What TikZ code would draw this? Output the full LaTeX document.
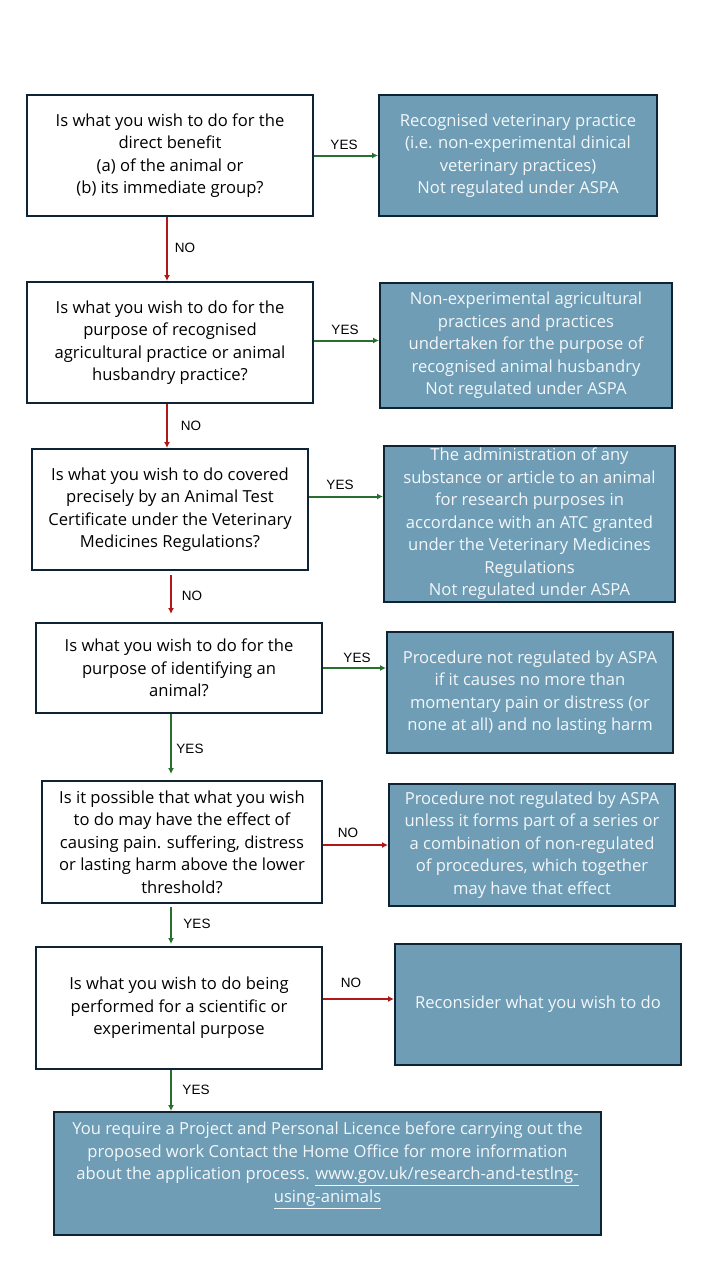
\documentclass[tikz,border=0pt]{standalone}
\usepackage{fontspec}
\setmainfont{Open Sans}
\newfontfamily\lblfont{Liberation Sans}
\usetikzlibrary{arrows.meta}
\definecolor{boxfill}{RGB}{110,157,181}
\definecolor{boxline}{RGB}{14,36,52}
\definecolor{yesgreen}{RGB}{40,112,48}
\definecolor{nored}{RGB}{176,24,24}
\definecolor{boxtext}{RGB}{244,247,250}
\tikzset{
  qbox/.style={draw=boxline, line width=2pt, fill=white, align=center, inner sep=0pt,
    font=\fontsize{16.6}{22.5}\selectfont, text=black},
  abox/.style={draw=boxline, line width=2pt, fill=boxfill, align=center, inner sep=0pt,
    font=\fontsize{16.6}{22.5}\selectfont, text=boxtext},
  yesarr/.style={draw=yesgreen, line width=2pt, -{Latex[length=6pt,width=6pt]}},
  noarr/.style={draw=nored, line width=2pt, -{Latex[length=6pt,width=6pt]}},
  lbl/.style={font=\lblfont\fontsize{13.5}{15}\selectfont, text=black, inner sep=0pt}
}
\begin{document}
\begin{tikzpicture}[x=1pt,y=-1pt]
\useasboundingbox[fill=white] (0,0) rectangle (720,1280);

% questions
\node[qbox, minimum width=286pt, minimum height=121pt] (q1) at (170,155.5)
  {Is what you wish to do for the\\direct benefit\\(a) of the animal or\\(b) its immediate group?};
\node[qbox, minimum width=286pt, minimum height=121pt] (q2) at (170,342.5)
  {Is what you wish to do for the\\purpose of recognised\\agricultural practice or animal\\husbandry practice?};
\node[qbox, minimum width=276pt, minimum height=121pt] (q3) at (170,509.5)
  {Is what you wish to do covered\\precisely by an Animal Test\\Certificate under the Veterinary\\Medicines Regulations?};
\node[qbox, minimum width=286pt, minimum height=90pt] (q4) at (179,668)
  {Is what you wish to do for the\\purpose of identifying an\\animal?};
\node[qbox, minimum width=280pt, minimum height=122pt] (q5) at (182,842)
  {Is it possible that what you wish\\to do may have the effect of\\causing pain. suffering, distress\\or lasting harm above the lower\\threshold?};
\node[qbox, minimum width=286pt, minimum height=122pt] (q6) at (179,1008)
  {Is what you wish to do being\\performed for a scientific or\\experimental purpose};

% answers
\node[abox, minimum width=278pt, minimum height=121pt] (a1) at (518,155.5)
  {Recognised veterinary practice\\(i.e. non-experimental dinical\\veterinary practices)\\Not regulated under ASPA};
\node[abox, minimum width=292pt, minimum height=125pt] (a2) at (526,345.5)
  {Non-experimental agricultural\\practices and practices\\undertaken for the purpose of\\recognised animal husbandry\\Not regulated under ASPA};
\node[abox, minimum width=291pt, minimum height=156pt] (a3) at (529.5,524)
  {The administration of any\\substance or article to an animal\\for research purposes in\\accordance with an ATC granted\\under the Veterinary Medicines\\Regulations\\Not regulated under ASPA};
\node[abox, minimum width=286pt, minimum height=121pt] (a4) at (530,692.5)
  {Procedure not regulated by ASPA\\if it causes no more than\\momentary pain or distress (or\\none at all) and no lasting harm};
\node[abox, minimum width=286pt, minimum height=122pt] (a5) at (532,845)
  {Procedure not regulated by ASPA\\unless it forms part of a series or\\a combination of non-regulated\\of procedures, which together\\may have that effect};
\node[abox, minimum width=286pt, minimum height=121pt] (a6) at (538,1004.5)
  {Reconsider what you wish to do};
\node[abox, minimum width=547pt, minimum height=123pt] (a7) at (327.5,1173.5)
  {You require a Project and Personal Licence before carrying out the\\proposed work Contact the Home Office for more information\\about the application process. \underline{www.gov.uk/research-and-testlng-}\\\underline{using-animals}\\\mbox{}};

% horizontal connectors
\draw[yesarr] (q1.east) -- (a1.west);
\node[lbl] (l1) at (344,145) {YES};
\draw[yesarr] ([yshift=2pt]q2.east) -- ([yshift=2pt]q2.east -| a2.west);
\node[lbl] (l2) at (345,330) {YES};
\draw[yesarr] ([yshift=13pt]q3.east) -- ([yshift=13pt]q3.east -| a3.west);
\node[lbl] (l3) at (340,485) {YES};
\draw[yesarr] (q4.east) -- (q4.east -| a4.west);
\node[lbl] (l4) at (357,658) {YES};
\draw[noarr] ([yshift=-3pt]q5.east) -- ([yshift=-3pt]q5.east -| a5.west);
\node[lbl] (l5) at (348,833) {NO};
\draw[noarr] ([yshift=9pt]q6.east) -- ([yshift=9pt]q6.east -| a6.west);
\node[lbl] (l6) at (351,983) {NO};

% vertical connectors
\draw[noarr] ([xshift=-3pt]q1.south) -- ([xshift=-3pt]q1.south |- q2.north);
\node[lbl] (l7) at (185,248) {NO};
\draw[noarr] ([xshift=-3pt]q2.south) -- ([xshift=-3pt]q2.south |- q3.north);
\node[lbl] (l8) at (191,426) {NO};
\draw[noarr, shorten <=4pt, shorten >=8pt] ([xshift=1pt]q3.south) -- ([xshift=1pt]q3.south |- q4.north);
\node[lbl] (l9) at (192,596) {NO};
\draw[yesarr, shorten >=6pt] ([xshift=-8pt]q4.south) -- ([xshift=-8pt]q4.south |- q5.north);
\node[lbl] (l10) at (190,749) {YES};
\draw[yesarr, shorten <=3pt, shorten >=2pt] ([xshift=-11pt]q5.south) -- ([xshift=-11pt]q5.south |- q6.north);
\node[lbl] (l11) at (197,924) {YES};
\draw[yesarr] ([xshift=-8pt]q6.south) -- ([xshift=-8pt]q6.south |- a7.north);
\node[lbl] (l12) at (196,1090) {YES};
\end{tikzpicture}
\end{document}
